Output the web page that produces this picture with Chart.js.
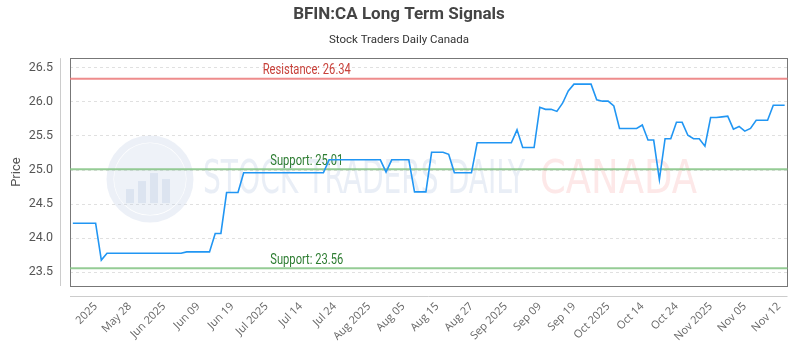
<!DOCTYPE html>
<html>
<head>
<meta charset="utf-8">
<script src="https://cdn.jsdelivr.net/npm/chart.js@4.4.0/dist/chart.umd.min.js"></script>
<style>
  html, body { margin: 0; padding: 0; background: #fff; }
  #wrap { width: 800px; height: 350px; }
</style>
</head>
<body>
<div id="wrap"><canvas id="chart"></canvas></div>
<script>
// tick labels shown on the x axis, one every 6 points starting at point 4
var tickLabels = ['2025', 'May 28', 'Jun 2025', 'Jun 09', 'Jun 19', 'Jul 2025', 'Jul 14', 'Jul 24',
    'Aug 2025', 'Aug 05', 'Aug 15', 'Aug 27', 'Sep 2025', 'Sep 09', 'Sep 19', 'Oct 2025',
    'Oct 14', 'Oct 24', 'Nov 2025', 'Nov 05', 'Nov 12'];
var tickStart = 4;
var tickEvery = 6;

// closing prices, one per trading day
var prices = [
    24.22, 24.22, 24.22, 24.22, 24.22, 23.68, 23.78, 23.78, 23.78, 23.78,
    23.78, 23.78, 23.78, 23.78, 23.78, 23.78, 23.78, 23.78, 23.78, 23.78,
    23.80, 23.80, 23.80, 23.80, 23.80, 24.07, 24.07, 24.67, 24.67, 24.67,
    24.96, 24.96, 24.96, 24.96, 24.96, 24.96, 24.96, 24.96, 24.96, 24.96,
    24.96, 24.96, 24.96, 24.96, 24.96, 25.15, 25.15, 25.15, 25.15, 25.15,
    25.15, 25.15, 25.15, 25.15, 25.15, 24.97, 25.15, 25.15, 25.15, 25.15,
    24.68, 24.68, 24.68, 25.26, 25.26, 25.26, 25.23, 24.96, 24.96, 24.96,
    24.96, 25.40, 25.40, 25.40, 25.40, 25.40, 25.40, 25.40, 25.59, 25.33,
    25.33, 25.33, 25.92, 25.89, 25.89, 25.86, 25.98, 26.16, 26.26, 26.26,
    26.26, 26.26, 26.03, 26.01, 26.01, 25.94, 25.61, 25.61, 25.61, 25.61,
    25.66, 25.44, 25.44, 24.86, 25.46, 25.46, 25.70, 25.70, 25.51, 25.46,
    25.46, 25.35, 25.77, 25.77, 25.78, 25.79, 25.60, 25.64, 25.57, 25.61,
    25.73, 25.73, 25.73, 25.95, 25.95, 25.95
];

var resistanceLevels = [26.34];
var supportLevels = [25.01, 23.56];
var yTicks = [23.5, 24.0, 24.5, 25.0, 25.5, 26.0, 26.5];
var yMin = 23.3;
var yMax = 26.64;

var condensed = '"DejaVu Sans Condensed", sans-serif';

var labels = prices.map(function(p, i) {
    var k = (i - tickStart) / tickEvery;
    return (k >= 0 && k === Math.floor(k) && tickLabels[k]) ? tickLabels[k] : '';
});

// box round the plot, the offset axis lines and the level lines with their labels
var framePlugin = {
    id: 'frame',
    beforeDatasetsDraw: function(chart) {
        var ctx = chart.ctx, a = chart.chartArea, y = chart.scales.y;
        ctx.save();

        // watermark
        var cy = (a.top + a.bottom) / 2 + 9;
        ctx.strokeStyle = 'rgba(200, 212, 232, 0.35)';
        ctx.lineWidth = 7;
        ctx.beginPath();
        ctx.arc(a.left + 80, cy - 2, 40, 0, Math.PI * 2);
        ctx.stroke();
        ctx.fillStyle = 'rgba(200, 212, 232, 0.3)';
        ctx.beginPath();
        ctx.arc(a.left + 80, cy - 2, 36, 0, Math.PI * 2);
        ctx.fill();
        ctx.fillStyle = 'rgba(180, 196, 222, 0.3)';
        [[-24, 14], [-12, 22], [0, 30], [12, 24]].forEach(function(b) {
            ctx.fillRect(a.left + 80 + b[0], cy + 22 - b[1], 8, b[1]);
        });
        ctx.font = '46px ' + condensed;
        ctx.textBaseline = 'middle';
        ctx.textAlign = 'left';
        var t1 = 'STOCK TRADERS DAILY', t2 = 'CANADA';
        var w1 = ctx.measureText(t1).width, w2 = ctx.measureText(t2).width;
        ctx.save();
        ctx.translate(a.left + 133, cy);
        ctx.scale(322 / w1, 1);
        ctx.fillStyle = 'rgba(200, 212, 232, 0.4)';
        ctx.fillText(t1, 0, 0);
        ctx.restore();
        ctx.save();
        ctx.translate(a.left + 470, cy);
        ctx.scale(157 / w2, 1);
        ctx.fillStyle = 'rgba(248, 180, 180, 0.3)';
        ctx.fillText(t2, 0, 0);
        ctx.restore();

        // frame and axis lines
        ctx.lineWidth = 1;
        ctx.strokeStyle = '#777';
        ctx.strokeRect(Math.round(a.left) + 0.5, Math.round(a.top) + 0.5,
            Math.round(a.right - a.left) - 1, Math.round(a.bottom - a.top));
        ctx.strokeStyle = '#ccc';
        ctx.beginPath();
        ctx.moveTo(Math.round(a.left) - 9.5, a.top);
        ctx.lineTo(Math.round(a.left) - 9.5, a.bottom);
        ctx.moveTo(a.left, Math.round(a.bottom) + 10.5);
        ctx.lineTo(a.right, Math.round(a.bottom) + 10.5);
        ctx.stroke();

        // levels, label text slightly condensed
        var labelX = a.left + (a.right - a.left) * 0.33;
        ctx.font = '14.5px Roboto, sans-serif';
        ctx.textAlign = 'center';
        ctx.textBaseline = 'bottom';
        function level(v, line, text, name) {
            var py = y.getPixelForValue(v);
            ctx.strokeStyle = line;
            ctx.lineWidth = 2;
            ctx.beginPath();
            ctx.moveTo(a.left, py);
            ctx.lineTo(a.right, py);
            ctx.stroke();
            ctx.save();
            ctx.translate(labelX, py - 1);
            ctx.scale(0.77, 1);
            ctx.fillStyle = text;
            ctx.fillText(name + ': ' + v.toFixed(2), 0, 0);
            ctx.restore();
        }
        resistanceLevels.forEach(function(v) { level(v, 'rgba(235, 120, 120, 0.85)', '#c8413a', 'Resistance'); });
        supportLevels.forEach(function(v) { level(v, 'rgba(130, 195, 130, 0.85)', '#2e7d32', 'Support'); });
        ctx.restore();
    }
};

new Chart(document.getElementById('chart').getContext('2d'), {
    type: 'line',
    data: {
        labels: labels,
        datasets: [{
            label: 'Price',
            data: prices,
            borderColor: '#2196f3',
            borderWidth: 1.6,
            pointRadius: 0,
            fill: false,
            tension: 0
        }]
    },
    options: {
        responsive: true,
        maintainAspectRatio: false,
        animation: false,
        layout: { padding: { left: 0, right: 2, top: 0, bottom: 0 } },
        plugins: {
            legend: { display: false },
            tooltip: { enabled: false },
            title: {
                display: true,
                text: 'BFIN:CA Long Term Signals',
                color: '#444',
                font: { family: 'Roboto', size: 17, weight: 'bold' },
                padding: { top: 5, bottom: 8 }
            },
            subtitle: {
                display: true,
                text: 'Stock Traders Daily Canada',
                color: '#333',
                font: { family: 'Roboto', size: 11.5 },
                padding: { top: 0, bottom: 11 }
            }
        },
        scales: {
            x: {
                type: 'category',
                offset: true,
                grid: { display: false },
                border: { display: false },
                afterFit: function(scale) { scale.height = 64; },
                ticks: {
                    autoSkip: false,
                    minRotation: 45,
                    maxRotation: 45,
                    padding: 6,
                    color: '#666',
                    font: { family: 'Open Sans', size: 11 }
                }
            },
            y: {
                min: yMin,
                max: yMax,
                afterBuildTicks: function(scale) {
                    scale.ticks = yTicks.map(function(v) { return { value: v }; });
                },
                afterFit: function(scale) { scale.width = 70; },
                grid: { color: '#e0e0e0', drawTicks: false },
                border: { display: false, dash: [3, 3] },
                ticks: {
                    padding: 17,
                    color: '#555',
                    font: { family: 'Roboto', size: 12.5 },
                    callback: function(v) { return Number(v).toFixed(1); }
                },
                title: {
                    display: true,
                    text: 'Price',
                    color: '#555',
                    font: { family: 'Roboto', size: 13 },
                    padding: { top: 9, bottom: 0 }
                }
            }
        }
    },
    plugins: [framePlugin]
});
</script>
</body>
</html>
